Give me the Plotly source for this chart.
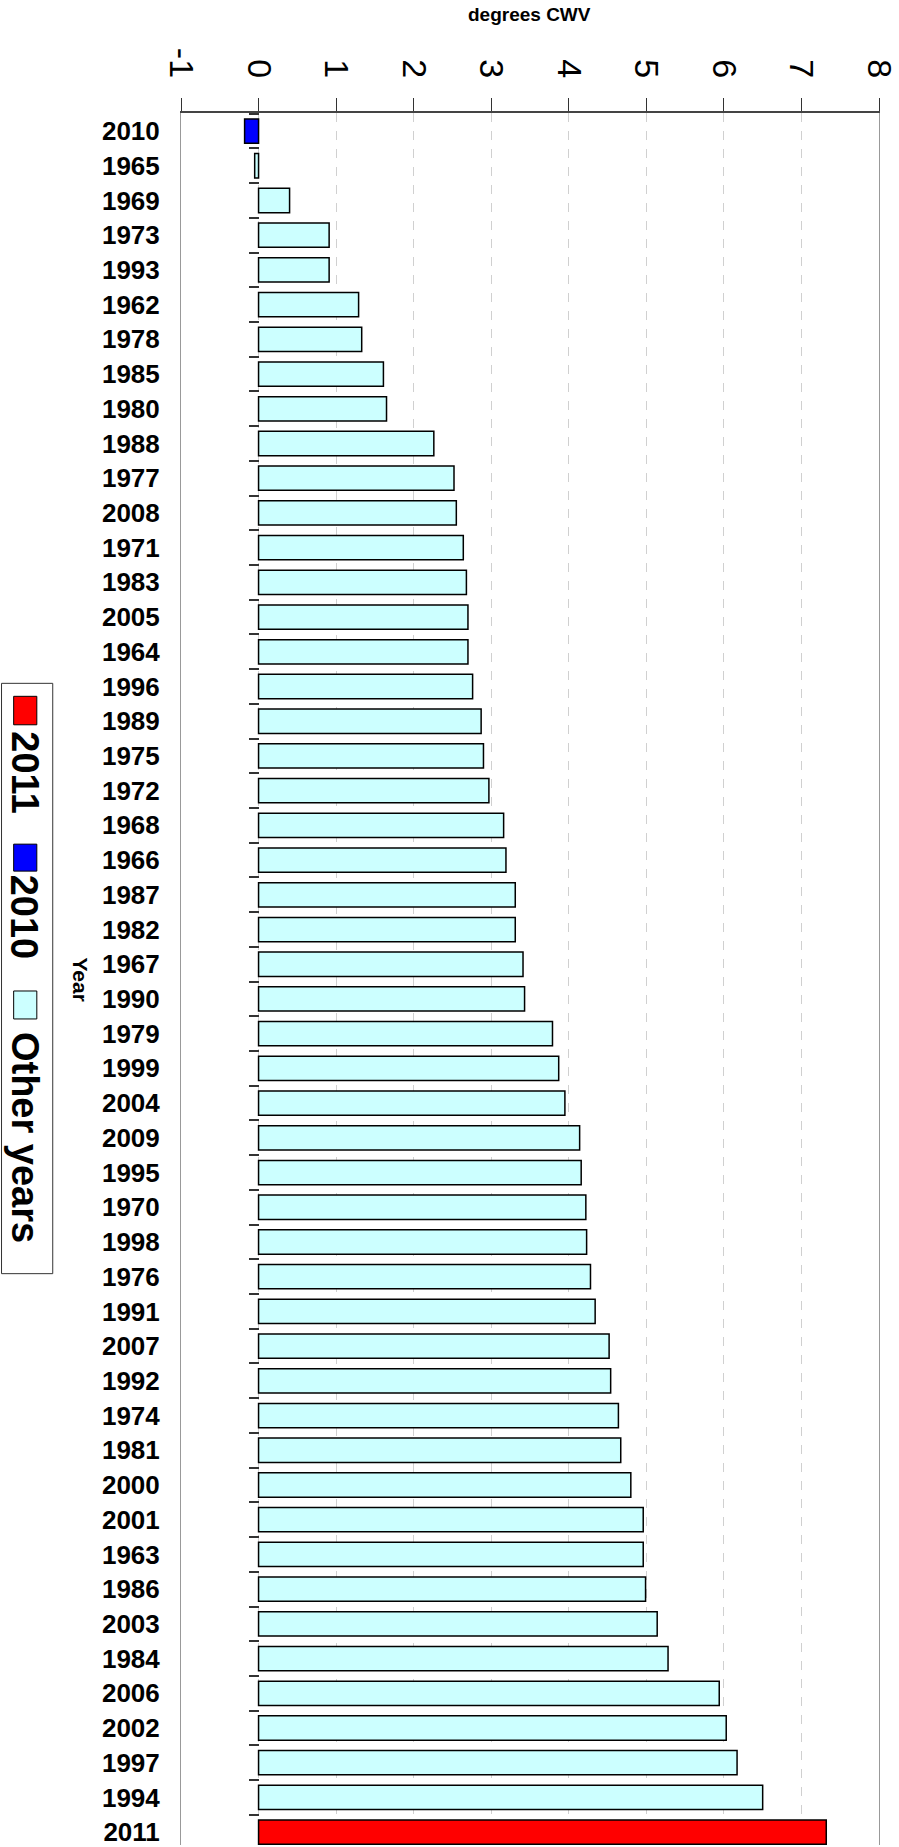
import plotly.graph_objects as go

# ---------------- data ----------------
years = ["2010", "1965", "1969", "1973", "1993", "1962", "1978", "1985", "1980", "1988",
         "1977", "2008", "1971", "1983", "2005", "1964", "1996", "1989", "1975", "1972",
         "1968", "1966", "1987", "1982", "1967", "1990", "1979", "1999", "2004", "2009",
         "1995", "1970", "1998", "1976", "1991", "2007", "1992", "1974", "1981", "2000",
         "2001", "1963", "1986", "2003", "1984", "2006", "2002", "1997", "1994", "2011"]
values = [-0.18, -0.05, 0.40, 0.91, 0.91, 1.29, 1.33, 1.61, 1.65, 2.26,
          2.52, 2.55, 2.64, 2.68, 2.70, 2.70, 2.76, 2.87, 2.90, 2.97,
          3.16, 3.19, 3.31, 3.31, 3.41, 3.43, 3.79, 3.87, 3.95, 4.14,
          4.16, 4.22, 4.23, 4.28, 4.34, 4.52, 4.54, 4.64, 4.67, 4.80,
          4.96, 4.96, 4.99, 5.14, 5.28, 5.94, 6.03, 6.17, 6.50, 7.32]
x_tick_vals = [-1, 0, 1, 2, 3, 4, 5, 6, 7, 8]
x_tick_text = ["-1", "0", "1", "2", "3", "4", "5", "6", "7", "8"]
groups = ["2011", "2010", "Other years"]
group_colors = ["#FF0000", "#0000FF", "#CCFFFF"]

# ---------------- layout geometry ----------------
FIG_W, FIG_H = 899, 1847
L, R, T, B = 181, 16, 113, 0
W = FIG_W - L - R
H = FIG_H - T - B
FONT = "Liberation Sans, Arial, Helvetica, sans-serif"


def px_x(px):
    return (px - L) / W


def px_y(py):
    return (T + H - py) / H


def group_of(y):
    if y == "2011":
        return 0
    if y == "2010":
        return 1
    return 2


fig = go.Figure()
for gi, gname in enumerate(groups):
    ys = [y for y in years if group_of(y) == gi]
    xs = [v for y, v in zip(years, values) if group_of(y) == gi]
    fig.add_trace(go.Bar(
        x=xs, y=ys, orientation="h", name=gname,
        marker=dict(color=group_colors[gi], line=dict(color="#000000", width=1.5)),
        width=0.70, showlegend=False,
    ))

# invisible trace carrying the secondary y axis (ticks at x = 0)
fig.add_trace(go.Scatter(
    x=[0] * len(years), y=years, yaxis="y2", mode="markers",
    marker=dict(opacity=0, size=1), hoverinfo="skip", showlegend=False,
))

y_range = [49.37, -0.52]

fig.update_layout(
    width=FIG_W, height=FIG_H,
    margin=dict(l=L, r=R, t=T, b=B, pad=0),
    paper_bgcolor="white", plot_bgcolor="white",
    barmode="overlay",
    font=dict(family=FONT, color="black"),
    xaxis=dict(
        side="top", range=[-1, 8], tickvals=x_tick_vals, ticktext=x_tick_text,
        tickangle=90, tickfont=dict(size=34, family=FONT, color="black"),
        ticks="outside", ticklen=13, tickcolor="#333333", tickwidth=1,
        ticklabelstandoff=8, ticklabeloverflow="allow",
        showline=True, linecolor="#444444", linewidth=2, mirror=False,
        showgrid=True, gridcolor="#d0d0d0", griddash="dash", gridwidth=1,
        zeroline=False,
    ),
    yaxis=dict(
        type="category", categoryorder="array", categoryarray=years,
        range=y_range,
        tickfont=dict(size=26, family=FONT, color="black", weight="bold"),
        ticks="", ticklabelstandoff=15, ticklabeloverflow="allow",
        showline=True, linecolor="#999999", linewidth=1, mirror=True,
        showgrid=False, zeroline=False,
    ),
    yaxis2=dict(
        type="category", categoryorder="array", categoryarray=years,
        range=y_range, overlaying="y", anchor="free", position=1 / 9,
        side="left", ticks="outside", ticklen=10, tickcolor="#333333",
        tickwidth=1.5, tickson="boundaries", showticklabels=False,
        showgrid=False, zeroline=False, showline=False,
    ),
)

# title and axis title
fig.add_annotation(
    text="<b>degrees CWV</b>", xref="paper", yref="paper",
    x=px_x(531), y=px_y(14), xanchor="center", yanchor="middle",
    showarrow=False, font=dict(size=19, family=FONT, color="black"),
)
fig.add_annotation(
    text="<b>Year</b>", xref="paper", yref="paper",
    x=px_x(80), y=px_y(980), xanchor="center", yanchor="middle",
    textangle=90, showarrow=False, font=dict(size=21, family=FONT, color="black"),
)

# custom rotated legend
fig.add_shape(type="rect", xref="paper", yref="paper",
              x0=px_x(0.5), x1=px_x(52), y0=px_y(684), y1=px_y(1275),
              line=dict(color="#333333", width=1), fillcolor="white", layer="above")
square_tops = [697, 845, 992]
square_bottoms = [725.5, 872, 1020]
text_centers = [773, 918.5, 1139]
for gi, gname in enumerate(groups):
    fig.add_shape(type="rect", xref="paper", yref="paper",
                  x0=px_x(12.7), x1=px_x(36), y0=px_y(square_tops[gi]), y1=px_y(square_bottoms[gi]),
                  line=dict(color="#000000", width=1), fillcolor=group_colors[gi], layer="above")
    fig.add_annotation(
        text="<b>" + gname + "</b>", xref="paper", yref="paper",
        x=px_x(24), y=px_y(text_centers[gi]), xanchor="center", yanchor="middle",
        textangle=90, showarrow=False, font=dict(size=38, family=FONT, color="black"),
    )

fig.write_html(
    "out.html",
    config={"displayModeBar": False},
    post_script=(
        "document.documentElement.style.overflow='hidden';"
        "document.body.style.overflow='hidden';"
        "document.body.style.margin='0';"
    ),
)
